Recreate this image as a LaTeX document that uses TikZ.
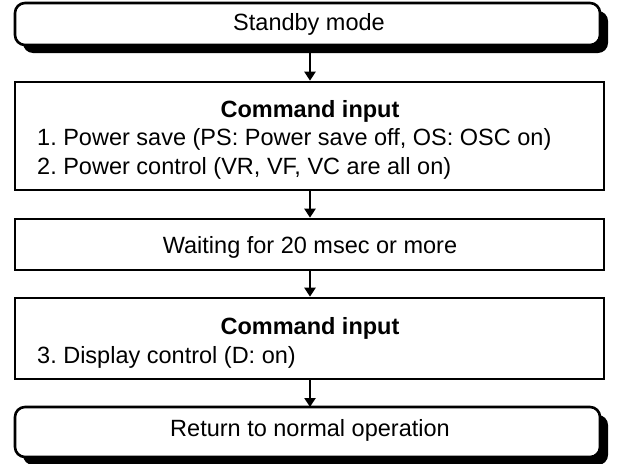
\documentclass[tikz,border=0pt]{standalone}
\usepackage{fontspec}
\setmainfont{Liberation Sans}
\usetikzlibrary{arrows.meta,shadows}
\begin{document}
\begin{tikzpicture}[x=1pt,y=1pt,
  box/.style={draw,line width=2.6pt,fill=white,inner sep=0pt},
  rbox/.style={box,rounded corners=10pt,drop shadow={shadow xshift=8pt,shadow yshift=-8pt,fill=black,opacity=1}},
  txt/.style={font=\fontsize{23.5}{28}\selectfont,inner sep=0pt,anchor=base},
  btxt/.style={txt,font=\fontsize{23.5}{28}\selectfont\bfseries},
  ltxt/.style={txt,anchor=base west},
  arr/.style={line width=2.2pt,-{Triangle[length=9pt,width=11pt]}}]
\frenchspacing
\useasboundingbox (0,0) rectangle (618,-463);
\node[rbox,minimum width=585pt,minimum height=42pt] (standby) at (307.5,-24) {};
\node[box,minimum width=589pt,minimum height=108pt] (cmd1) at (309.5,-136) {};
\node[box,minimum width=589pt,minimum height=51pt] (wait) at (309.5,-244.5) {};
\node[box,minimum width=589pt,minimum height=81pt] (cmd2) at (309.5,-338.5) {};
\node[rbox,minimum width=585pt,minimum height=50pt] (ret) at (307.5,-432) {};
\node[txt] (t1) at (309,-30) {Standby mode};
\node[btxt] (t2) at (310,-117) {Command input};
\node[ltxt] (t3) at (37,-145) {1. Power save (PS: Power save off, OS: OSC on)};
\node[ltxt] (t4) at (37,-174) {2. Power control (VR, VF, VC are all on)};
\node[txt] (t5) at (310,-253) {Waiting for 20 msec or more};
\node[btxt] (t6) at (310,-334) {Command input};
\node[ltxt] (t7) at (37,-363) {3. Display control (D: on)};
\node[txt] (t8) at (310,-436) {Return to normal operation};
\coordinate (a1) at (310,-45);
\coordinate (a5) at (310,-407);
\draw[arr] (a1) -- (a1 |- cmd1.north);
\draw[arr] (a1 |- cmd1.south) -- (a1 |- wait.north);
\draw[arr] (a1 |- wait.south) -- (a1 |- cmd2.north);
\draw[arr] (a1 |- cmd2.south) -- (a5);
\end{tikzpicture}
\end{document}
